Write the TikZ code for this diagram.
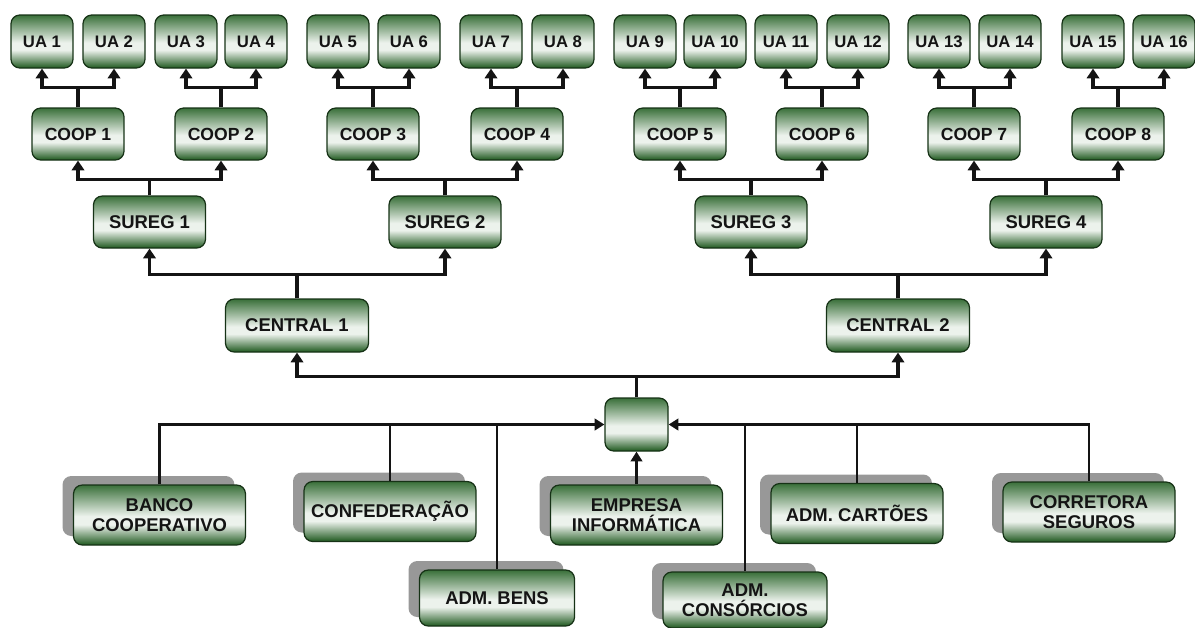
\documentclass[tikz,border=0pt]{standalone}
\usepackage{fontspec}
\setmainfont{Liberation Sans}
\usetikzlibrary{arrows.meta,shadows}
\definecolor{BoxTop}{RGB}{58,112,58}
\definecolor{BoxLight}{RGB}{236,242,236}
\definecolor{BoxBottom}{RGB}{30,88,30}
\definecolor{BoxEdge}{RGB}{22,50,22}
\definecolor{ShadowGray}{RGB}{152,152,152}
\definecolor{InkDark}{RGB}{20,20,20}
\pgfdeclareverticalshading{greenbar}{100bp}{color(0bp)=(BoxBottom); color(25bp)=(BoxBottom);
  color(42bp)=(BoxLight); color(49bp)=(BoxLight); color(75bp)=(BoxTop); color(100bp)=(BoxTop)}
\tikzset{
  gbox/.style={draw=BoxEdge,line width=0.7pt,rounded corners=5pt,shading=greenbar,
    text=InkDark,align=center,inner sep=1pt},
  unit/.style={gbox,minimum width=1.24cm,minimum height=1.06cm,font=\bfseries\fontsize{9.5}{10}\selectfont},
  coop/.style={gbox,minimum width=1.84cm,minimum height=1.04cm,font=\bfseries\fontsize{10}{11}\selectfont},
  sureg/.style={gbox,minimum width=2.24cm,minimum height=1.04cm,font=\bfseries\fontsize{10.5}{12}\selectfont},
  central/.style={gbox,minimum width=2.86cm,minimum height=1.06cm,font=\bfseries\fontsize{10.5}{12}\selectfont},
  hubbox/.style={gbox,minimum width=1.26cm,minimum height=1.06cm},
  firm/.style={gbox,minimum width=3.44cm,minimum height=1.2cm,font=\bfseries\fontsize{10.5}{11.5}\selectfont,
    drop shadow={shadow xshift=-0.22cm,shadow yshift=0.18cm,fill=ShadowGray,opacity=1}},
  arrow/.style={-{Triangle[width=7pt,length=5.5pt]},line width=1.8pt,InkDark},
  link/.style={line width=1.4pt,InkDark},
  linkarrow/.style={link,-{Triangle[width=6.5pt,length=5.5pt]}}
}
\begin{document}
\begin{tikzpicture}[x=0.02cm,y=-0.02cm]
  \useasboundingbox (0,0) rectangle (1195,627);

  % Top rows: units, cooperatives, regional offices, centrals
  \foreach \n/\x in {1/42,2/114,3/186,4/256,5/338,6/409,7/491,8/563,9/645,10/715,11/786,12/858,13/939,14/1010,15/1093,16/1164}
    \node[unit] (ua\n) at (\x,41.5) {UA \n};
  \foreach \n/\x in {1/78,2/221,3/373,4/517,5/680,6/822,7/974,8/1118}
    \node[coop] (coop\n) at (\x,134) {COOP \n};
  \foreach \n/\x in {1/149.5,2/445,3/751,4/1046}
    \node[sureg] (sureg\n) at (\x,222) {SUREG \n};
  \node[central] (central1) at (297,325.5) {CENTRAL 1};
  \node[central] (central2) at (898,325.5) {CENTRAL 2};

  % Hub and the firms round it
  \node[hubbox] (hub) at (636.5,424.5) {};
  \node[firm] (banco) at (159.5,515) {BANCO\\COOPERATIVO};
  \node[firm] (confed) at (390,511.5) {CONFEDERAÇÃO};
  \node[firm,minimum width=3.1cm,minimum height=1.12cm] (bens) at (497,598) {ADM. BENS};
  \node[firm] (empresa) at (636.5,515) {EMPRESA\\INFORMÁTICA};
  \node[firm,minimum width=3.28cm,minimum height=1.12cm] (consorcios) at (745,600) {ADM.\\CONSÓRCIOS};
  \node[firm] (cartoes) at (857,513.5) {ADM. CARTÕES};
  \node[firm] (corretora) at (1089,512) {CORRETORA\\SEGUROS};

  % Tree connectors
  \foreach \c/\a/\b in {1/1/2,2/3/4,3/5/6,4/7/8,5/9/10,6/11/12,7/13/14,8/15/16} {
    \draw[arrow] (coop\c.north) -- ++(0,-20) -| (ua\a.south);
    \draw[arrow] (coop\c.north) -- ++(0,-20) -| (ua\b.south);
  }
  \foreach \s/\a/\b in {1/1/2,2/3/4,3/5/6,4/7/8} {
    \draw[arrow] (sureg\s.north) -- ++(0,-16) -| (coop\a.south);
    \draw[arrow] (sureg\s.north) -- ++(0,-16) -| (coop\b.south);
  }
  \foreach \c/\a/\b in {1/1/2,2/3/4} {
    \draw[arrow] (central\c.north) -- ++(0,-24) -| (sureg\a.south);
    \draw[arrow] (central\c.north) -- ++(0,-24) -| (sureg\b.south);
  }
  \draw[arrow] (hub.north) -- ++(0,-21) -| (central1.south);
  \draw[arrow] (hub.north) -- ++(0,-21) -| (central2.south);

  % Firms into the hub
  \draw[linkarrow] (banco.north) |- (hub.west);
  \draw[link] (confed.north) -- (confed.north |- hub.west);
  \draw[link] (bens.north) -- (bens.north |- hub.west);
  \draw[linkarrow] (empresa.north) -- (hub.south);
  \draw[linkarrow] (corretora.north) |- (hub.east);
  \draw[link] (cartoes.north) -- (cartoes.north |- hub.east);
  \draw[link] (consorcios.north) -- (consorcios.north |- hub.east);
\end{tikzpicture}
\end{document}
